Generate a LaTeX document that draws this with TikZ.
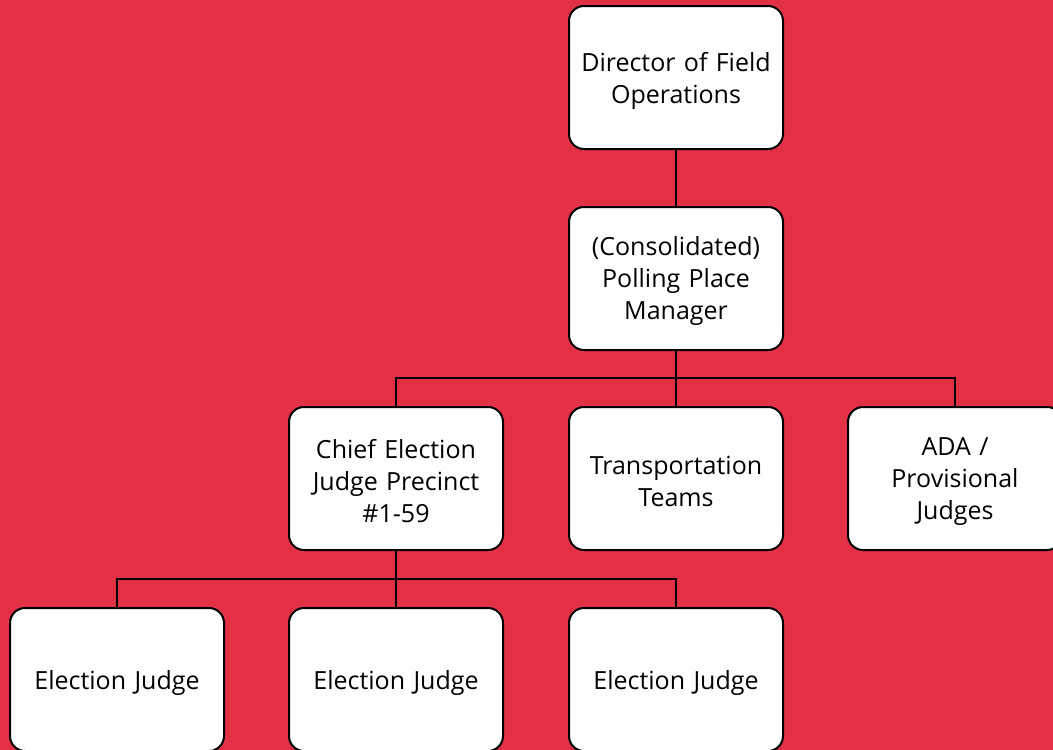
\documentclass[tikz,border=0pt]{standalone}
\usepackage{fontspec}
\setmainfont{Open Sans}
\definecolor{bgred}{RGB}{226,48,68}
\newcommand\orgbox[3]{%
  \node[box] (#1) at (#2) {};
  \node[txt] (#1-t) at ([yshift=-3pt]#1.center) {#3};}
\begin{document}
\begin{tikzpicture}[x=1pt,y=1pt,
  box/.style={draw=black, fill=white, line width=2pt, rounded corners=15pt,
    minimum width=214pt, minimum height=143pt, inner sep=0pt},
  txt/.style={text width=212pt, align=center, inner sep=0pt,
    font=\fontsize{25}{32}\selectfont},
  conn/.style={draw=black, line width=2pt}]
\useasboundingbox (0,0) rectangle (1053,-750);
\fill[bgred] (0,0) rectangle (1053,-750);
\orgbox{dir}{676,-77.5}{Director of Field\\Operations}
\orgbox{ppm}{676,-278.5}{(Consolidated)\\Polling Place\\Manager}
\orgbox{chief}{396,-478.5}{Chief Election\\Judge Precinct\\\#1-59}
\orgbox{trans}{676,-478.5}{Transportation\\Teams}
\orgbox{ada}{955,-478.5}{ADA /\\Provisional\\Judges}
\orgbox{ej1}{117,-679.5}{Election Judge}
\orgbox{ej2}{396,-679.5}{Election Judge}
\orgbox{ej3}{676,-679.5}{Election Judge}
\coordinate (bus1) at (676,-378);
\coordinate (bus2) at (396,-579);
\draw[conn] (dir.south) -- (ppm.north);
\draw[conn] (ppm.south) -- (bus1);
\draw[conn] (bus1) -| (chief.north);
\draw[conn] (bus1) -- (trans.north);
\draw[conn] (bus1) -| (ada.north);
\draw[conn] (chief.south) -- (bus2);
\draw[conn] (bus2) -| (ej1.north);
\draw[conn] (bus2) -- (ej2.north);
\draw[conn] (bus2) -| (ej3.north);
\end{tikzpicture}
\end{document}
